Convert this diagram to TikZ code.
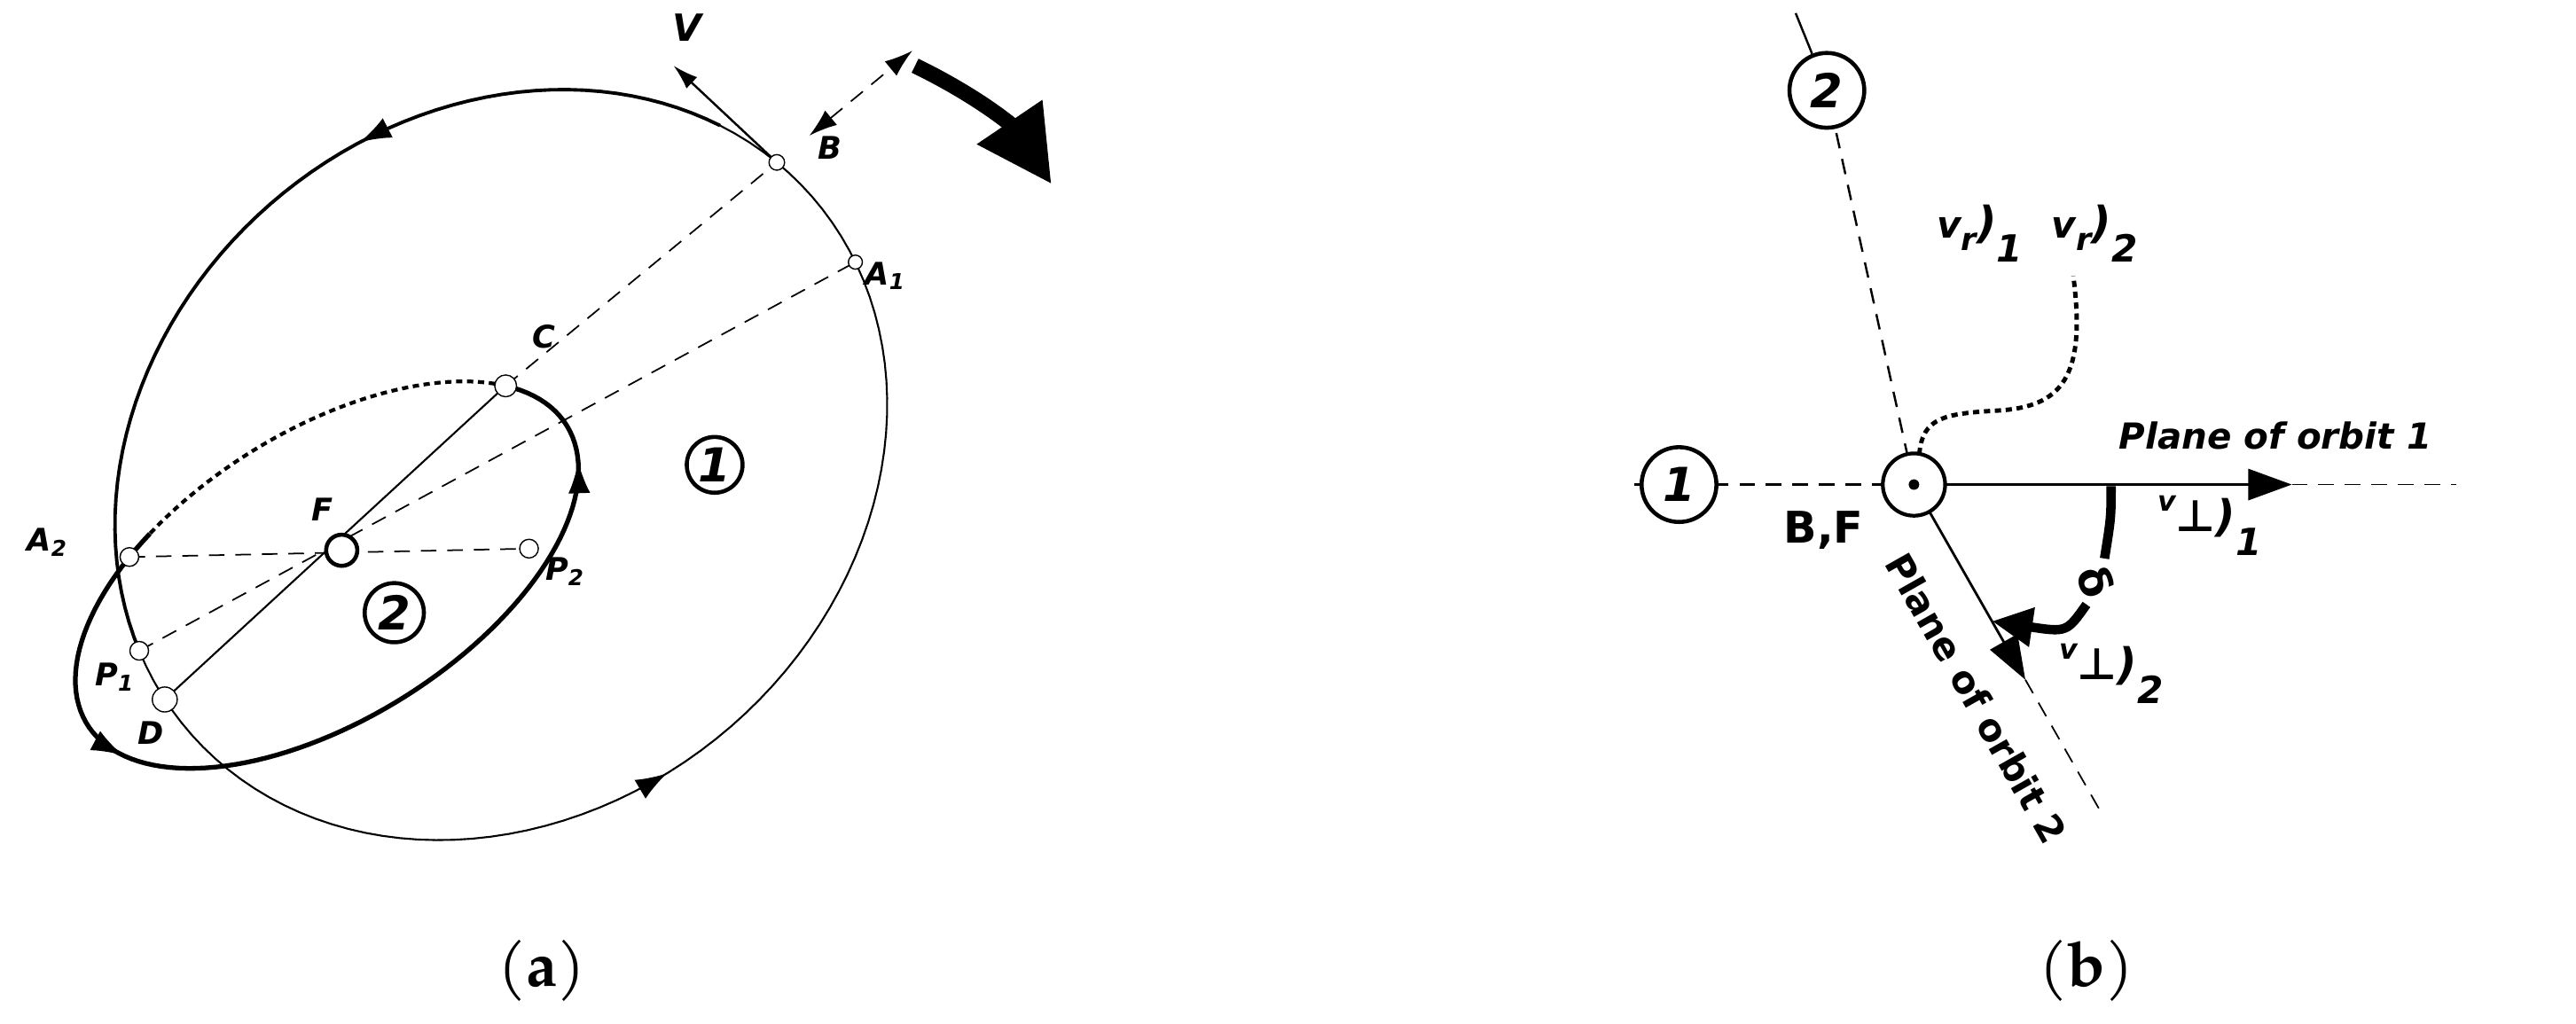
\documentclass[tikz,border=0pt]{standalone}
\usepackage{fontspec}
\setmainfont{TeX Gyre Pagella}
\newfontfamily\lbl{DejaVu Sans}
\usetikzlibrary{arrows.meta,calc}
\begin{document}
\begin{tikzpicture}[x=0.01853cm,y=0.01853cm,
  lab/.style={font=\lbl\bfseries\itshape\fontsize{10}{12}\selectfont,inner sep=1pt},
  bigl/.style={font=\lbl\bfseries\itshape\fontsize{11.5}{14}\selectfont,inner sep=1pt},
  num/.style={circle,draw,line width=1.3pt,inner sep=1pt,minimum size=#1,font=\lbl\bfseries\itshape\fontsize{15}{16}\selectfont},
  pt/.style={circle,draw,fill=white,inner sep=0pt,minimum size=#1},
  dsh/.style={dashed,dash pattern=on 5pt off 3.5pt,line width=0.5pt},
  tip/.style={-{Latex[length=10pt,width=7pt]}}]
\useasboundingbox (0,0) rectangle (1568,-623);
% ---------- (a) ----------
\begin{scope}[shift={(305,-283)},rotate=40]
  \coordinate (B) at ({250*cos(9)},{212*sin(9)});
  \coordinate (A1) at ({250*cos(-12)},{212*sin(-12)});
  \coordinate (P1) at ({250*cos(165)},{212*sin(165)});
  \coordinate (D) at ({250*cos(174)},{212*sin(174)});
  \coordinate (g1a) at ({250*cos(74)},{212*sin(74)});
  \coordinate (g1b) at ({250*cos(76)},{212*sin(76)});
  \coordinate (g2a) at ({250*cos(258)},{212*sin(258)});
  \coordinate (g2b) at ({250*cos(260)},{212*sin(260)});
  \draw[line width=1.1pt] plot[domain=20:165,samples=60] ({250*cos(\x)},{212*sin(\x)});
  \draw[line width=0.6pt] plot[domain=165:380,samples=80] ({250*cos(\x)},{212*sin(\x)});
\end{scope}
\draw[tip,line width=0.6pt] (g1a) -- (g1b);
\draw[tip,line width=0.6pt] (g2a) -- (g2b);
\begin{scope}[shift={(199,-350)},rotate=32]
  \coordinate (C) at ({172*cos(27)},{88*sin(27)});
  \coordinate (A2) at ({172*cos(124)},{88*sin(124)});
  \coordinate (h1a) at ({172*cos(195)},{88*sin(195)});
  \coordinate (h1b) at ({172*cos(198)},{88*sin(198)});
  \coordinate (h2a) at ({172*cos(342)},{88*sin(342)});
  \coordinate (h2b) at ({172*cos(345)},{88*sin(345)});
  \draw[line width=1.2pt,dash pattern=on 2pt off 1.5pt] plot[domain=27:117,samples=45] ({172*cos(\x)},{88*sin(\x)});
  \draw[line width=1.5pt] plot[domain=117:387,samples=110] ({172*cos(\x)},{88*sin(\x)});
\end{scope}
\draw[tip,line width=0.6pt] (h1a) -- (h1b);
\draw[tip,line width=0.6pt] (h2a) -- (h2b);
\coordinate (P2) at (322,-334);
\coordinate (Fc) at (208,-335);
\coordinate (Be) at ($(C)!1.12!(B)$);
\coordinate (Bt) at ($(C)!1.5!(B)$);
\coordinate (Vt) at (410,-40);
\draw[dsh] (C) -- (B);
\draw[dsh,{Latex[length=9pt,width=6pt]}-{Latex[length=9pt,width=6pt]}] (Be) -- (Bt);
\draw[dsh] (P1) -- (A1);
\draw[dsh] (A2) -- (P2);
\draw[line width=0.6pt] (C) -- (D);
\draw[line width=0.7pt,-{Latex[length=8pt,width=5pt]}] (B) -- (Vt);
\node[pt=10pt,line width=1.3pt] (F) at (Fc) {};
\foreach \p/\s in {B/5pt,A1/4.5pt,P1/6pt,P2/6pt,A2/6pt,C/7pt,D/8pt} \node[pt=\s] (n\p) at (\p) {};
\coordinate (Ra) at (557,-40); \coordinate (Rb) at (640,-112);
\draw[line width=5pt,-{Triangle[length=24pt,width=24pt]}] (Ra) to[bend left=15] (Rb);
\node[lab] at (505,-90) {B};
\node[lab] at (539,-168) {A\textsubscript{1}};
\node[lab] at (331,-205) {C};
\node[lab] at (29,-330) {A\textsubscript{2}};
\node[lab] at (344,-348) {P\textsubscript{2}};
\node[lab] at (70,-412) {P\textsubscript{1}};
\node[lab] at (92,-446) {D};
\node[lab] at (196,-310) {F};
\node[lab,font=\lbl\bfseries\itshape\fontsize{12}{14}\selectfont] at (418,-17) {V};
\node[num=17pt] (c1) at (435,-283) {1};
\node[num=19pt] (c2) at (240,-373) {2};
\node[font=\fontsize{20}{24}\selectfont] at (330,-591) {(\textbf{a})};
% ---------- (b) ----------
\coordinate (O) at (1165,-295);
\coordinate (R1) at (1495,-295);
\coordinate (R1t) at (1395,-295);
\coordinate (L2) at (1278,-493);
\coordinate (L2t) at ($(O)!0.6!(L2)$);
\coordinate (Dt) at ($(O)!0.42!(L2)$);
\node[num=24pt] (k2) at (1112,-55) {2};
\node[num=24pt] (k1) at (1022,-295) {1};
\coordinate (S2) at (1093,-8);
\coordinate (S1) at (995,-295);
\draw[dsh] (R1t) -- (R1);
\draw[dsh] (L2t) -- (L2);
\draw[-{Triangle[length=14pt,width=10pt]},line width=0.8pt] (O) -- (R1t);
\draw[-{Triangle[length=14pt,width=10pt]},line width=0.8pt] (O) -- (L2t);
\draw[dsh,line width=0.7pt] (O) -- (k2);
\draw[line width=0.7pt] (S2) -- (k2);
\draw[dsh,line width=1pt] (O) -- (k1);
\draw[line width=0.8pt] (S1) -- (k1);
\draw[line width=1.4pt,dash pattern=on 2pt off 1.5pt] (1168,-283) .. controls (1168,-255) and (1180,-252) .. (1215,-250) .. controls (1255,-248) and (1270,-230) .. (1262,-168);
\node[circle,draw,fill=white,line width=1.2pt,minimum size=20pt,inner sep=0pt] (Oc) at (O) {};
\fill (O) circle (3.2);
\coordinate (Da) at (1285,-296); \coordinate (Db) at (1281,-340);
\coordinate (Dc) at (1270,-368);
\draw[line width=3pt] (Da) .. controls (1285,-315) .. (Db);
\draw[line width=3pt,-{Triangle[length=13pt,width=12pt]}] (Dc) .. controls (1258,-385) .. (Dt);
\node[font=\lbl\bfseries\fontsize{14}{16}\selectfont,rotate=-70] at (1276,-354) {δ};
\node[font=\lbl\bfseries\fontsize{14}{16}\selectfont] at (1110,-323) {B,F};
\node[bigl] at (1385,-265) {Plane of orbit 1};
\node[font=\lbl\bfseries\fontsize{12}{14}\selectfont,rotate=-60.5] at (1203,-425) {Plane of orbit 2};
\node[lab] at (1345,-320) {\raisebox{1.2ex}{\fontsize{9}{10}\selectfont v}\fontsize{14}{16}\selectfont ⊥)\raisebox{-1ex}{\fontsize{12}{12}\selectfont 1}};
\node[lab] at (1285,-410) {\raisebox{1.2ex}{\fontsize{9}{10}\selectfont v}\fontsize{14}{16}\selectfont ⊥)\raisebox{-1ex}{\fontsize{12}{12}\selectfont 2}};
\node[lab] at (1205,-142) {\fontsize{12}{14}\selectfont v\raisebox{-0.6ex}{\fontsize{10}{10}\selectfont r}\fontsize{14}{16}\selectfont)\raisebox{-1ex}{\fontsize{12}{12}\selectfont 1}};
\node[lab] at (1275,-142) {\fontsize{12}{14}\selectfont v\raisebox{-0.6ex}{\fontsize{10}{10}\selectfont r}\fontsize{14}{16}\selectfont)\raisebox{-1ex}{\fontsize{12}{12}\selectfont 2}};
\node[font=\fontsize{20}{24}\selectfont] at (1270,-591) {(\textbf{b})};
\end{tikzpicture}
\end{document}
